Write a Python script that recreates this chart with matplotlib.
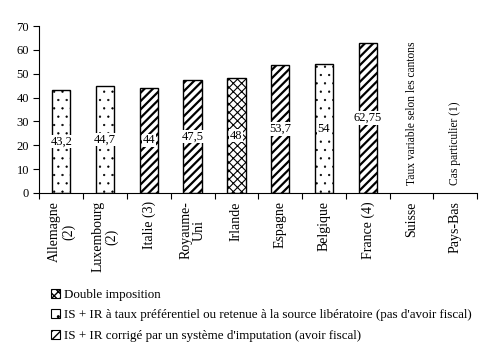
import matplotlib
matplotlib.use('Agg')
import matplotlib.pyplot as plt
from matplotlib.patches import Patch

# data
pays = ['Allemagne\n(2)', 'Luxembourg\n(2)', 'Italie (3)', 'Royaume-\nUni', 'Irlande',
        'Espagne', 'Belgique', 'France (4)', 'Suisse', 'Pays-Bas']
taux = [43.2, 44.7, 44, 47.5, 48, 53.7, 54, 62.75, None, None]
etiquettes = ['43,2', '44,7', '44', '47,5', '48', '53,7', '54', '62,75', '', '']
systeme = ['pref', 'pref', 'imput', 'imput', 'double', 'imput', 'pref', 'imput', None, None]
notes = {8: 'Taux variable selon les cantons', 9: 'Cas particulier (1)'}

legende = {
    'double': 'Double imposition',
    'pref': "IS + IR à taux préférentiel ou retenue à la source libératoire (pas d'avoir fiscal)",
    'imput': "IS + IR corrigé par un système d'imputation (avoir fiscal)",
}
hachures = {'double': 'xxxx', 'pref': '..', 'imput': '////'}
epaisseur = {'double': 0.8, 'pref': 0.4, 'imput': 1.6}

plt.rcParams['font.family'] = ['Liberation Serif', 'DejaVu Serif']
plt.rcParams['font.size'] = 9

fig = plt.figure(figsize=(4.92, 3.52), dpi=100)
ax = fig.add_axes([0.080, 0.452, 0.890, 0.474])

for i, (v, lab, s) in enumerate(zip(taux, etiquettes, systeme)):
    if v is None:
        continue
    b = ax.bar(i, v, width=0.42, color='white', edgecolor='black', linewidth=1.0,
               hatch=hachures[s])
    b[0].set_hatch_linewidth(epaisseur[s])
    ax.text(i, v / 2, lab, ha='center', va='center', fontsize=9,
            bbox=dict(facecolor='white', edgecolor='none', pad=0.5))

for i, txt in notes.items():
    ax.text(i, 3.3, txt, rotation=90, ha='center', va='bottom', fontsize=8.3)

ax.set_xlim(-0.5, len(pays) - 0.5)
ax.set_ylim(0, 70)
ax.set_yticks(range(0, 71, 10))
ax.set_xticks([i - 0.5 for i in range(len(pays) + 1)])
ax.set_xticklabels([])
ax.set_xticks(range(len(pays)), minor=True)
ax.set_xticklabels(pays, minor=True, rotation=90, va='top', ha='center',
                   linespacing=1.1, fontsize=10)
ax.tick_params(axis='x', which='minor', length=0, pad=6)
ax.tick_params(axis='both', which='major', direction='out', length=4, width=0.8)
ax.spines['top'].set_visible(False)
ax.spines['right'].set_visible(False)

handles = []
for k in ['double', 'pref', 'imput']:
    p = Patch(facecolor='white', edgecolor='black', linewidth=0.8, hatch=hachures[k])
    p.set_hatch_linewidth(min(epaisseur[k], 0.8))
    handles.append(p)
fig.legend(handles, [legende[k] for k in ['double', 'pref', 'imput']],
           loc='upper left', bbox_to_anchor=(0.079, 0.212), frameon=False,
           handlelength=0.7, handleheight=0.7, handletextpad=0.3,
           labelspacing=0.62, fontsize=9.4)

fig.savefig('out.png', dpi=100)
